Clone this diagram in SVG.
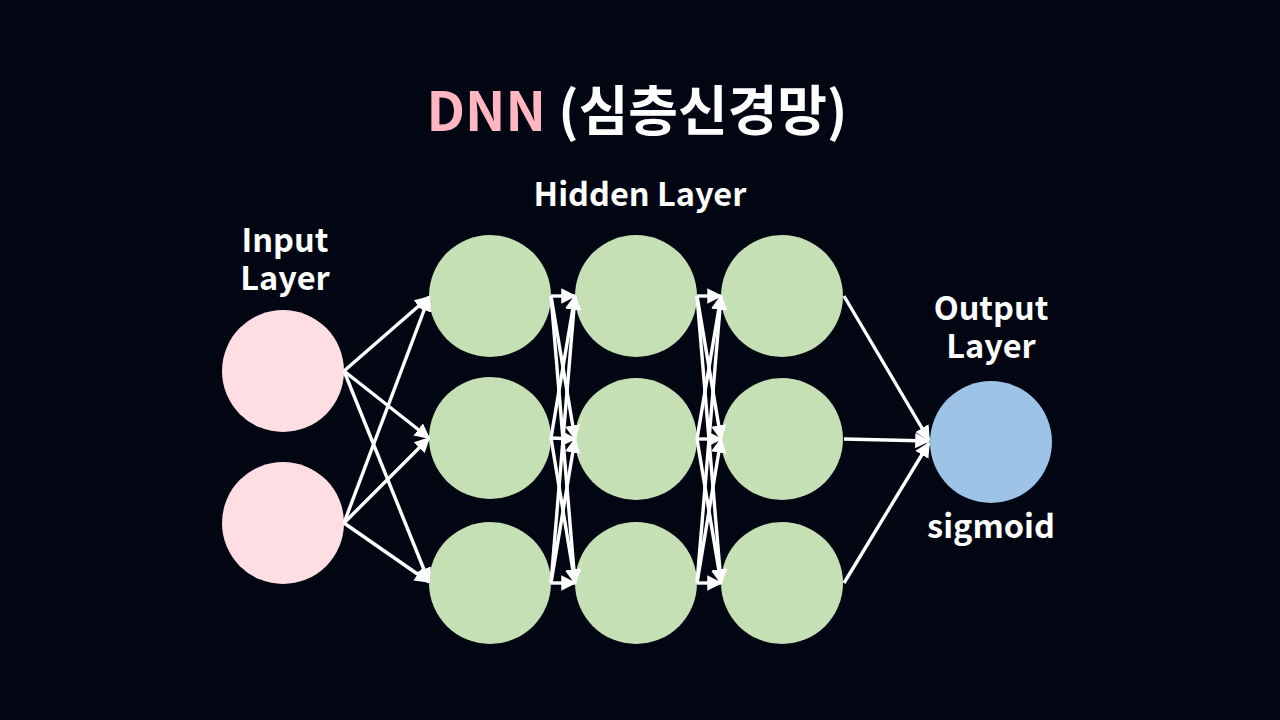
<svg xmlns="http://www.w3.org/2000/svg" width="1280" height="720" viewBox="0 0 1280 720">
<defs>
<marker id="arr" viewBox="0 0 10 10" refX="9" refY="5" markerWidth="4.5" markerHeight="4.5" orient="auto" markerUnits="strokeWidth">
<path d="M0,0 L10,5 L0,10 z" fill="#ffffff"/>
</marker>
<style>
.t{font-family:"Noto Sans CJK KR","Noto Sans",sans-serif;font-weight:700;fill:#ffffff;text-anchor:middle}
.in{fill:#FFDEE3}
.hid{fill:#C5E0B4}
.out{fill:#9DC3E6}
.c line{stroke:#ffffff;stroke-width:3.4;marker-end:url(#arr)}
</style>
</defs>
<rect width="1280" height="720" fill="#020612"/>
<text class="t" x="637" y="131" font-size="54"><tspan fill="#FFB6C1">DNN</tspan> (심층신경망)</text>
<text class="t" x="640" y="206" font-size="32.5">Hidden Layer</text>
<g id="input-label"><text class="t" font-size="32.5"><tspan x="285" y="252">Input</tspan><tspan x="285" y="290">Layer</tspan></text></g>
<g id="output-label"><text class="t" font-size="32.5"><tspan x="991" y="320">Output</tspan><tspan x="991" y="358">Layer</tspan></text></g>
<g id="i1"><circle class="in" cx="283" cy="371" r="61"/></g>
<g id="i2"><circle class="in" cx="283" cy="523" r="61"/></g>
<g id="h11"><circle class="hid" cx="490" cy="296" r="61"/></g>
<g id="h12"><circle class="hid" cx="490" cy="438" r="61"/></g>
<g id="h13"><circle class="hid" cx="490" cy="583" r="61"/></g>
<g id="h21"><circle class="hid" cx="636" cy="296" r="61"/></g>
<g id="h22"><circle class="hid" cx="636" cy="439" r="61"/></g>
<g id="h23"><circle class="hid" cx="636" cy="583" r="61"/></g>
<g id="h31"><circle class="hid" cx="782" cy="296" r="61"/></g>
<g id="h32"><circle class="hid" cx="782" cy="439" r="61"/></g>
<g id="h33"><circle class="hid" cx="782" cy="583" r="61"/></g>
<g id="o1"><circle class="out" cx="991" cy="442" r="61"/><text class="t" x="991" y="538" font-size="32.5">sigmoid</text></g>
<g id="connectors" class="c">
<line x1="344" y1="371" x2="429" y2="297"/>
<line x1="344" y1="371" x2="429" y2="438"/>
<line x1="344" y1="371" x2="429" y2="582"/>
<line x1="344" y1="523" x2="429" y2="297"/>
<line x1="344" y1="523" x2="429" y2="438"/>
<line x1="344" y1="523" x2="429" y2="582"/>
<line x1="551" y1="296" x2="575" y2="296"/>
<line x1="551" y1="296" x2="575" y2="439"/>
<line x1="551" y1="296" x2="575" y2="583"/>
<line x1="551" y1="438" x2="575" y2="296"/>
<line x1="551" y1="438" x2="575" y2="439"/>
<line x1="551" y1="438" x2="575" y2="583"/>
<line x1="551" y1="583" x2="575" y2="296"/>
<line x1="551" y1="583" x2="575" y2="439"/>
<line x1="551" y1="583" x2="575" y2="583"/>
<line x1="697" y1="296" x2="721" y2="296"/>
<line x1="697" y1="296" x2="721" y2="439"/>
<line x1="697" y1="296" x2="721" y2="583"/>
<line x1="697" y1="439" x2="721" y2="296"/>
<line x1="697" y1="439" x2="721" y2="439"/>
<line x1="697" y1="439" x2="721" y2="583"/>
<line x1="697" y1="583" x2="721" y2="296"/>
<line x1="697" y1="583" x2="721" y2="439"/>
<line x1="697" y1="583" x2="721" y2="583"/>
<line x1="844" y1="296" x2="929" y2="440"/>
<line x1="844" y1="439" x2="929" y2="441"/>
<line x1="844" y1="583" x2="929" y2="443"/>
</g>
</svg>
